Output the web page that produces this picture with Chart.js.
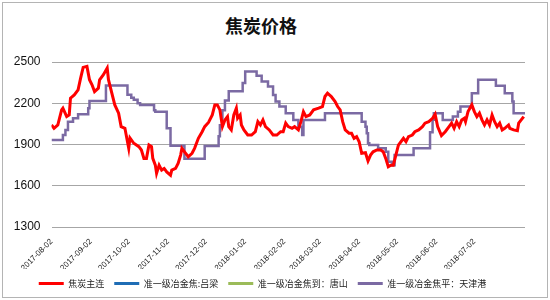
<!DOCTYPE html>
<html>
<head>
<meta charset="utf-8">
<script src="https://cdn.jsdelivr.net/npm/chart.js@4/dist/chart.umd.min.js"></script>
<style>
  body { margin: 0; background: #fff; }
  #wrap { position: relative; width: 550px; height: 300px; }
  #frame { position: absolute; left: 2px; top: 2px; width: 544px; height: 294px; border: 1px solid #b4b4b4; }
  #title { position: absolute; left: 0; top: 12px; width: 522px; text-align: center;
           font: bold 18px "Noto Sans CJK SC", sans-serif; color: #111; }
  canvas { position: absolute; left: 0; top: 0; }
</style>
</head>
<body>
<div id="wrap">
  <div id="frame"></div>
  <div id="title">焦炭价格</div>
  <canvas id="c" width="550" height="300"></canvas>
</div>
<script>
// 天数 = 距 2017-08-02 的天数
const tickDays = [0, 31, 61, 92, 122, 153, 184, 212, 243, 273, 304, 334];
const tickLabels = ['2017-08-02', '2017-09-02', '2017-10-02', '2017-11-02', '2017-12-02', '2018-01-02',
    '2018-02-02', '2018-03-02', '2018-04-02', '2018-05-02', '2018-06-02', '2018-07-02'];

const seriesNames = ['焦炭主连', '准一级冶金焦:吕梁', '准一级冶金焦到：唐山', '准一级冶金焦平：天津港'];

// 焦炭主连
const redDays = [0, 2, 5, 8, 9, 12, 14, 15, 18, 21, 23, 25, 28, 30, 32, 34, 37, 38, 41, 44, 45, 48, 50, 53, 55, 58, 59,
    61, 62, 65, 69, 71, 73, 75, 77, 79, 80, 82, 83, 85, 87, 89, 91, 94, 95, 98, 100, 102, 103, 106, 108, 111, 113,
    116, 119, 121, 124, 127, 129, 131, 133, 135, 137, 139, 140, 142, 144, 146, 147, 149, 150, 152, 155, 158, 161,
    163, 165, 167, 169, 172, 175, 178, 181, 183, 185, 187, 190, 192, 195, 197, 199, 201, 204, 207, 211, 214, 216,
    218, 221, 224, 226, 228, 230, 232, 235, 237, 239, 241, 243, 245, 248, 250, 252, 254, 257, 260, 262, 264, 266,
    268, 270, 272, 274, 276, 278, 280, 282, 285, 287, 290, 293, 295, 298, 301, 303, 305, 308, 311, 314, 316, 318,
    320, 322, 324, 326, 327, 329, 332, 334, 336, 338, 340, 342, 344, 346, 348, 350, 352, 354, 356, 358, 361, 362,
    365, 368, 369, 371, 373];
const redVals = [2042, 2018, 2042, 2152, 2164, 2103, 2115, 2237, 2261, 2298, 2383, 2461, 2468, 2371, 2334, 2285, 2310,
    2371, 2407, 2456, 2371, 2261, 2188, 2128, 2030, 2018, 1969, 1872, 1947, 1909, 1884, 1860, 1799, 1799, 1896, 1884,
    1799, 1750, 1690, 1750, 1714, 1726, 1701, 1677, 1714, 1726, 1763, 1823, 1872, 1836, 1811, 1836, 1872, 1945, 1993,
    2030, 2060, 2115, 2188, 2188, 2152, 2030, 2079, 2103, 2030, 2006, 2115, 2164, 2091, 2115, 2042, 2006, 1969, 1969,
    1993, 2066, 2042, 2079, 2030, 2006, 1969, 1969, 1993, 1993, 2055, 2030, 2018, 2030, 2006, 2066, 2139, 2103, 2115,
    2152, 2164, 2176, 2249, 2273, 2249, 2212, 2176, 2152, 2066, 2006, 1982, 1982, 1945, 1957, 1920, 1836, 1840, 1780,
    1823, 1847, 1860, 1860, 1847, 1799, 1738, 1750, 1750, 1823, 1896, 1920, 1945, 1920, 1957, 1969, 1993, 2006, 2030,
    2055, 2066, 2091, 2120, 2030, 1965, 1993, 2030, 2055, 2018, 2066, 2030, 2079, 2091, 2066, 2139, 2188, 2139, 2103,
    2128, 2079, 2042, 2079, 2042, 2115, 2066, 2030, 2055, 2006, 2018, 2042, 2018, 2006, 2000, 2055, 2079, 2103];

// 准一级冶金焦平：天津港 (阶梯)
const tjDays = [0, 9, 11, 13, 17, 21, 29, 30, 43, 60, 63, 65, 68, 70, 81, 82, 91, 94, 105, 121, 132, 133, 135, 137,
    140, 151, 153, 162, 166, 171, 175, 177, 180, 185, 191, 195, 198, 199, 216, 245, 248, 249, 250, 251, 258, 264, 266,
    269, 271, 286, 299, 301, 302, 309, 317, 321, 323, 332, 337, 351, 358, 364, 365, 374];
const tjVals = [1933, 1969, 2006, 2066, 2091, 2120, 2164, 2217, 2330, 2261, 2240, 2225, 2200, 2188, 2150, 2139, 2018,
    1891, 1797, 1890, 1960, 2040, 2150, 2220, 2287, 2347, 2431, 2400, 2358, 2322, 2260, 2212, 2176, 2128, 2079, 2030,
    1969, 2079, 2128, 2066, 2030, 1982, 1909, 1896, 1872, 1847, 1774, 1750, 1823, 1872, 1990, 2080, 2128, 2079, 2103,
    2139, 2176, 2273, 2371, 2328, 2273, 2212, 2128, 2128];

const toPoints = (days, vals) => days.map((d, i) => ({ x: d, y: vals[i] }));

new Chart(document.getElementById('c'), {
    type: 'line',
    data: {
        datasets: [
            { label: seriesNames[0], data: toPoints(redDays, redVals), borderColor: '#ff0000', backgroundColor: '#ff0000', borderWidth: 3, pointRadius: 0, tension: 0 },
            { label: seriesNames[1], data: [], borderColor: '#1f6db5', backgroundColor: '#1f6db5', borderWidth: 3, pointRadius: 0 },
            { label: seriesNames[2], data: [], borderColor: '#9bbb59', backgroundColor: '#9bbb59', borderWidth: 3, pointRadius: 0 },
            { label: seriesNames[3], data: toPoints(tjDays, tjVals), borderColor: '#7b6aa3', backgroundColor: '#7b6aa3', borderWidth: 2.5, pointRadius: 0, stepped: true }
        ]
    },
    options: {
        responsive: false,
        animation: false,
        layout: { padding: { top: 62, right: 25, bottom: 2, left: 0 } },
        plugins: {
            tooltip: { enabled: false },
            legend: {
                position: 'bottom',
                labels: {
                    boxWidth: 25, boxHeight: 3, padding: 10, color: '#222',
                    font: { family: '"Noto Sans CJK SC", sans-serif', size: 9 },
                    generateLabels: chart => Chart.defaults.plugins.legend.labels.generateLabels(chart).map(l => ({ ...l, lineWidth: 0 }))
                }
            }
        },
        scales: {
            x: {
                type: 'linear', min: 0, max: 374,
                afterBuildTicks: s => { s.ticks = tickDays.map(v => ({ value: v })); },
                afterFit: s => { s.height = 42; },
                grid: { display: false },
                border: { display: false },
                ticks: {
                    autoSkip: false, minRotation: 45, maxRotation: 45, color: '#222', padding: 2,
                    font: { family: '"Liberation Sans", Arial, sans-serif', size: 8 },
                    callback: v => tickLabels[tickDays.indexOf(v)]
                }
            },
            y: {
                min: 1300, max: 2500,
                afterFit: s => { s.width = 51.5; },
                grid: { color: '#a6a6a6', lineWidth: 1, drawTicks: false },
                border: { display: false },
                ticks: {
                    stepSize: 300, padding: 11, color: '#111',
                    font: { family: '"Liberation Sans", Arial, sans-serif', size: 12 },
                    callback: v => String(v)
                }
            }
        }
    }
});
</script>
</body>
</html>
